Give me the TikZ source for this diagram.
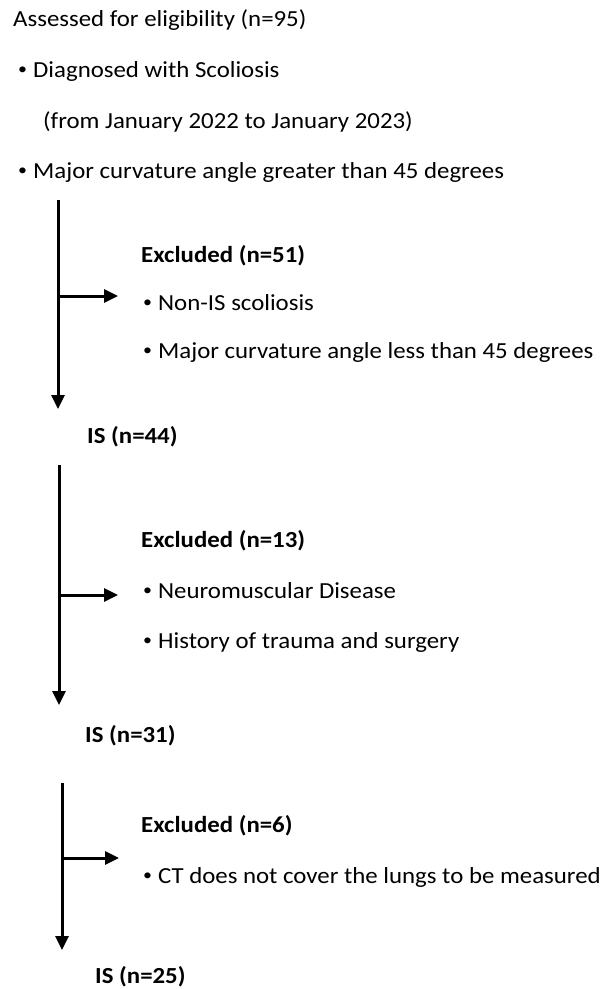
\documentclass[tikz,border=0pt]{standalone}
\usepackage{fontspec}
\setmainfont{Carlito}[FakeStretch=1.08]
\usetikzlibrary{arrows.meta}
\newcommand\mybul{\makebox[15pt][l]{\raisebox{0.09em}{\scalebox{0.72}{\textbullet}}}}
\tikzset{
  txt/.style={anchor=base west, inner sep=0pt, font=\fontsize{23}{27}\selectfont},
  btxt/.style={txt, font=\fontsize{23}{27}\selectfont\bfseries},
  flow/.style={line width=3pt, -{Triangle[width=13pt,length=14pt]}},
}
\begin{document}
\begin{tikzpicture}[x=1pt,y=-1pt]
\useasboundingbox (0,0) rectangle (609,989);
\node[txt] (assess) at (13,26) {Assessed for eligibility (n=95)};
\node[txt] (diag) at (18,77) {\mybul Diagnosed with Scoliosis};
\node[txt] (from) at (43,128) {(from January 2022 to January 2023)};
\node[txt] (major) at (18,178) {\mybul Major curvature angle greater than 45 degrees};

\node[btxt] (ex1) at (141,262) {Excluded (n=51)};
\node[txt] (nonis) at (143,310) {\mybul Non-IS scoliosis};
\node[txt] (less) at (143,358) {\mybul Major curvature angle less than 45 degrees};
\node[btxt] (is44) at (87,443) {IS (n=44)};

\node[btxt] (ex2) at (141,547) {Excluded (n=13)};
\node[txt] (neuro) at (143,598) {\mybul Neuromuscular Disease};
\node[txt] (hist) at (143,648) {\mybul History of trauma and surgery};
\node[btxt] (is31) at (85,742) {IS (n=31)};

\node[btxt] (ex3) at (141,832) {Excluded (n=6)};
\node[txt] (ct) at (143,883) {\mybul CT does not cover the lungs to be measured};
\node[btxt] (is25) at (95,983) {IS (n=25)};

\coordinate (t1) at (58,200);
\coordinate (b1) at (58,409);
\coordinate (j1) at (58,296);
\coordinate (e1) at (118,296);
\coordinate (t2) at (59,465);
\coordinate (b2) at (59,705);
\coordinate (j2) at (59,595);
\coordinate (e2) at (118,595);
\coordinate (t3) at (62,783);
\coordinate (b3) at (62,950);
\coordinate (j3) at (62,858);
\coordinate (e3) at (119,858);

\draw[flow] (t1) -- (b1);
\draw[flow] (j1) -- (e1);
\draw[flow] (t2) -- (b2);
\draw[flow] (j2) -- (e2);
\draw[flow] (t3) -- (b3);
\draw[flow] (j3) -- (e3);
\end{tikzpicture}
\end{document}
